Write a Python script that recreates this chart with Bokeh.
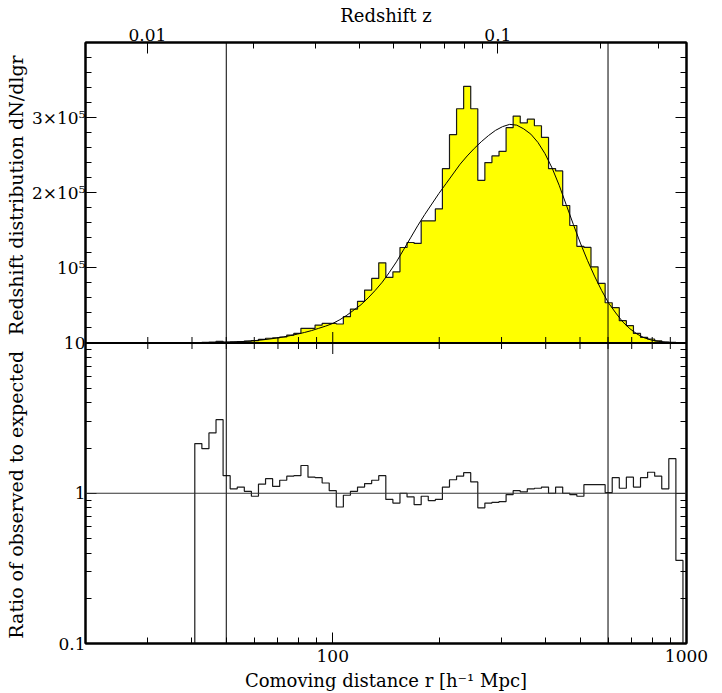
import numpy as np
from bokeh.plotting import figure
from bokeh.layouts import row
from bokeh.models import Range1d, LinearScale, LogAxis, FixedTicker, Span, Label
from bokeh.embed import file_html
from bokeh.resources import INLINE

# ---------------- data ----------------
# histogram bins in log10(r): first edge and width
log_r_first_edge = 1.61
log_r_bin_width = 0.02

# observed counts dN/dlgr per bin (thousands)
observed_k = [0.6, 0.75, 1.3, 2.2, 1.3, 1.45, 2.0, 2.5, 3.1, 4.7,
              6.3, 7.0, 8.0, 10.6, 12.9, 19.5, 19.5, 23.9, 26.1, 26.1,
              25.3, 35.0, 45.2, 55.5, 70.4, 86.0, 106.7, 87.3, 94.8, 127.1,
              133.8, 132.5, 162.6, 162.6, 178.5, 232.1, 277.3, 311.8, 341.6, 311.8,
              216.6, 240.1, 249.0, 255.2, 286.6, 302.1, 293.0, 298.0, 289.2, 273.7,
              232.1, 229.0, 183.0, 156.4, 128.7, 127.2, 101.4, 79.3, 53.6, 47.0,
              29.7, 23.0, 12.8, 7.5, 5.3, 2.9, 1.3, 1.0, 0.1]

# expected (model) counts at bin centres (thousands)
expected_k = [0.26, 0.37, 0.52, 0.72, 1.0, 1.35, 1.8, 2.4, 3.2, 4.1,
              5.2, 6.5, 8.0, 9.8, 11.8, 14.0, 16.5, 19.5, 22.5, 26.0,
              31.0, 37.0, 44.0, 51.0, 60.0, 70.0, 81.0, 94.0, 108.0, 124.0,
              140.0, 156.0, 171.0, 185.0, 199.0, 212.0, 225.0, 238.0, 249.0, 259.0,
              268.0, 276.0, 283.0, 288.0, 291.0, 290.0, 285.0, 278.0, 267.0, 252.0,
              233.0, 210.0, 184.0, 158.0, 133.0, 110.0, 89.0, 70.0, 53.0, 40.0,
              28.0, 19.0, 12.0, 7.0, 4.0, 2.2, 1.2, 0.6, 0.3]

# ratio of observed to expected per bin
ratio = [2.14, 1.98, 2.52, 3.09, 1.31, 1.07, 1.10, 1.03, 0.955, 1.15,
         1.25, 1.11, 1.22, 1.30, 1.31, 1.53, 1.28, 1.27, 1.17, 1.04,
         0.81, 0.97, 1.03, 1.10, 1.16, 1.22, 1.31, 0.91, 0.86, 1.00,
         0.945, 0.84, 0.955, 0.894, 0.91, 1.10, 1.23, 1.30, 1.37, 1.19,
         0.80, 0.86, 0.87, 0.88, 0.98, 1.04, 1.02, 1.07, 1.08, 1.10,
         1.00, 1.10, 1.00, 0.98, 0.955, 1.14, 1.14, 1.14, 1.01, 1.27,
         1.08, 1.28, 1.10, 1.27, 1.38, 1.30, 1.07, 1.70, 0.357]

# sample limits (vertical lines) in h^-1 Mpc
sample_limits = [50, 600]

# tick values
x_major = [100, 1000]
x_minor = [20, 30, 40, 50, 60, 70, 80, 90, 200, 300, 400, 500, 600, 700, 800, 900]
z_major = [0.01, 0.1]
z_minor = [0.02, 0.03, 0.04, 0.05, 0.06, 0.07, 0.08, 0.09, 0.2, 0.3]
ratio_major = [0.1, 1, 10]
ratio_minor = [0.2, 0.3, 0.4, 0.5, 0.6, 0.7, 0.8, 0.9, 2, 3, 4, 5, 6, 7, 8, 9]
count_major = [100000, 200000, 300000]
count_major_labels = ["10\u2075", "2\u00d710\u2075", "3\u00d710\u2075"]
count_minor = [20000 * i for i in range(1, 20) if (20000 * i) % 100000 != 0]

# panel titles (left side)
title_top = "Redshift distribution dN/dlgr"
title_bottom = "Ratio of observed to expected"

FONT = "DejaVu Serif"
TICK_FS = "17px"
LABEL_FS = "18px"
SIDE_FS = "19px"

# ---------------- derived geometry ----------------
n = len(observed_k)
edges_log = np.round(log_r_first_edge + log_r_bin_width * np.arange(n + 1), 4)
edges = 10 ** edges_log
centres = 10 ** (0.5 * (edges_log[:-1] + edges_log[1:]))
obs = np.array(observed_k) * 1000.0
exp_ = np.array(expected_k) * 1000.0


def comoving(z, om=0.3):
    zz = np.linspace(0, z, 2001)
    ez = np.sqrt(om * (1 + zz) ** 3 + 1 - om)
    return 2997.92458 * np.trapezoid(1.0 / ez, zz)


TOP_MAX = 400000.0
X_START, X_END = 20, 1000
TOTAL_W, TOTAL_H = 714, 693
TITLE_W = 28
FRAME_L, FRAME_R = 84, 686
FRAME_T, FRAME_B = 42, 644


def count_to_logaxis(v):
    return float(10 ** (1 + 2 * v / TOP_MAX))


# narrow strip holding the two rotated panel titles; its frame matches the
# main frame vertically so that its y range is expressed in page pixels
strip = figure(width=TITLE_W, height=TOTAL_H, x_range=Range1d(0, TITLE_W),
               y_range=Range1d(FRAME_B, FRAME_T), x_axis_location=None,
               y_axis_location=None, toolbar_location=None,
               output_backend="svg", min_border_left=0, min_border_right=0,
               min_border_top=FRAME_T, min_border_bottom=TOTAL_H - FRAME_B,
               outline_line_color=None,
               background_fill_color="white", border_fill_color="white")
strip.grid.visible = False
for txt, yc in ((title_top, 195), (title_bottom, 495)):
    strip.add_layout(Label(x=15, y=yc, text=txt, angle=90, angle_units="deg",
                           text_align="center", text_baseline="middle",
                           text_font=FONT, text_font_size=SIDE_FS,
                           text_color="black"))

p = figure(width=TOTAL_W - TITLE_W, height=TOTAL_H, x_axis_type="log",
           y_axis_type="log", x_range=Range1d(X_START, X_END),
           y_range=Range1d(0.1, 1000), output_backend="svg",
           toolbar_location=None,
           min_border_left=FRAME_L - TITLE_W, min_border_right=TOTAL_W - FRAME_R,
           min_border_top=FRAME_T, min_border_bottom=TOTAL_H - FRAME_B,
           background_fill_color="white", border_fill_color="white",
           outline_line_color="black", outline_line_width=2)
p.extra_y_ranges = {"top": Range1d(-TOP_MAX, TOP_MAX)}
p.extra_y_scales = {"top": LinearScale()}
p.grid.visible = False


def style(ax):
    ax.major_tick_in = 11
    ax.major_tick_out = 0
    ax.minor_tick_in = 6
    ax.minor_tick_out = 0
    ax.axis_line_color = "black"
    ax.axis_line_width = 2
    ax.major_tick_line_color = "black"
    ax.minor_tick_line_color = "black"
    ax.major_label_text_font = FONT
    ax.major_label_text_color = "black"
    ax.major_label_text_font_size = TICK_FS
    ax.axis_label_text_font = FONT
    ax.axis_label_text_font_style = "normal"
    ax.axis_label_text_font_size = LABEL_FS
    ax.axis_label_text_color = "black"


y_major = list(ratio_major) + [count_to_logaxis(v) for v in count_major]
y_minor = list(ratio_minor) + [count_to_logaxis(v) for v in count_minor]
y_ticker = FixedTicker(ticks=y_major, minor_ticks=y_minor)
y_overrides = {0.1: "0.1", 1: "1", 10: "10"}
for v, lab in zip(count_major, count_major_labels):
    y_overrides[count_to_logaxis(v)] = lab

left = p.yaxis[0]
style(left)
left.ticker = y_ticker
left.major_label_overrides = y_overrides
left.major_label_standoff = 0

right = LogAxis(ticker=y_ticker)
style(right)
right.major_label_overrides = {t: "" for t in y_major}
right.major_label_standoff = 0
p.add_layout(right, "right")

bottom = p.xaxis[0]
style(bottom)
bottom.ticker = FixedTicker(ticks=x_major, minor_ticks=x_minor)
bottom.major_label_overrides = {v: str(v) for v in x_major}
bottom.axis_label = "Comoving distance r [h\u207b\u00b9 Mpc]"
bottom.major_label_standoff = 6
bottom.axis_label_standoff = 5

z_major_r = [float(comoving(z)) for z in z_major]
z_minor_r = [float(comoving(z)) for z in z_minor]
top = LogAxis(ticker=FixedTicker(ticks=z_major_r, minor_ticks=z_minor_r),
              axis_label="Redshift z")
style(top)
top.major_label_overrides = {r: str(z) for r, z in zip(z_major_r, z_major)}
top.major_label_standoff = 2
top.axis_label_standoff = 0
p.add_layout(top, "above")

# ---------------- glyphs ----------------
hx, hy = [edges[0]], [0.0]
for i in range(n):
    hx += [edges[i], edges[i + 1]]
    hy += [obs[i], obs[i]]
hx.append(edges[-1]); hy.append(0.0)
p.patch(hx, hy, fill_color="#ffff00", line_color=None, y_range_name="top")
p.line(hx, hy, line_color="#1a1a1a", line_width=1.2, y_range_name="top")

p.line(centres, exp_, line_color="black", line_width=1, y_range_name="top")

rx, ry = [edges[0]], [0.05]
for i in range(n):
    rx += [edges[i], edges[i + 1]]
    ry += [ratio[i], ratio[i]]
rx.append(edges[-1]); ry.append(0.05)
p.line(rx, ry, line_color="#1a1a1a", line_width=1.2)

for loc in sample_limits:
    p.add_layout(Span(location=loc, dimension="height", line_color="black",
                      line_width=1))
p.add_layout(Span(location=1, dimension="width", line_color="#333333",
                  line_width=1.2))
p.add_layout(Span(location=0, dimension="width", y_range_name="top",
                  line_color="black", line_width=2))

# ticks on the shared middle edge (both panels)
mid_minor = [v for v in x_minor if v > X_START]
p.scatter(mid_minor, [0] * len(mid_minor), marker="dash", size=12,
          angle=np.pi / 2, line_color="black", line_width=1,
          y_range_name="top")
p.scatter([100], [0], marker="dash", size=22, angle=np.pi / 2,
          line_color="black", line_width=1, y_range_name="top")

layout = row(strip, p, spacing=0)
open("out.html", "w").write(file_html(layout, INLINE))
